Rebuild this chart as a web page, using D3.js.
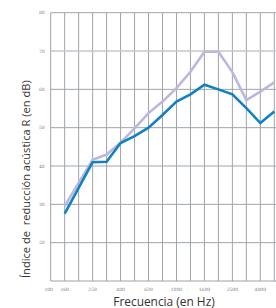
<!DOCTYPE html>
<html lang="es">
<head>
<meta charset="UTF-8">
<title>Índice de reducción acústica</title>
<script src="https://d3js.org/d3.v7.min.js"></script>
<style>
  html, body { margin: 0; padding: 0; background: #fff; }
  svg { display: block; }
</style>
</head>
<body>
<script>
// frequency bands (1/3 octave), only some are labelled
const freqs = ["100", "160", "200", "250", "315", "400", "500", "630", "800",
               "1000", "1250", "1600", "2000", "2500", "3150", "4000", "5000"];
const tickFreqs = ["100", "160", "250", "400", "630", "1000", "1600", "2500", "4000"];
const yTicks = [20, 30, 40, 50, 60, 70, 80];

// series start at 160 Hz
const seriesFreqs = freqs.slice(1);
const blueValues = [27.6, 34.3, 41.0, 41.1, 46.0, 47.8, 50.0, 53.3, 56.8, 58.7, 61.2, 60.0, 58.7, 55.1, 51.2, 54.2];
const lilacValues = [29.5, 35.6, 41.6, 43.0, 46.1, 49.8, 53.8, 56.8, 60.3, 64.6, 69.8, 69.8, 64.5, 57.2, 59.4, 61.8];

const width = 276, height = 308;
const plotLeft = 50.7, plotRight = 274.3, plotTop = 12.7, plotBottom = 281;

const svg = d3.select("body").append("svg")
    .attr("width", width)
    .attr("height", height);

const x = d3.scalePoint().domain(freqs).range([plotLeft, plotRight]);
const y = d3.scaleLinear().domain([10, 80]).range([plotBottom, plotTop]);

const gridColor = "#9ea4a9";

// vertical grid
svg.append("g")
  .selectAll("line")
  .data(freqs)
  .join("line")
    .attr("x1", d => x(d)).attr("x2", d => x(d))
    .attr("y1", plotTop).attr("y2", plotBottom)
    .attr("stroke", gridColor)
    .attr("stroke-width", 1);

// horizontal grid (70 line is lighter)
svg.append("g")
  .selectAll("line")
  .data([10].concat(yTicks))
  .join("line")
    .attr("x1", plotLeft).attr("x2", width)
    .attr("y1", d => y(d)).attr("y2", d => y(d))
    .attr("stroke", d => d === 70 ? "#c7c7cc" : gridColor)
    .attr("stroke-width", d => d === 70 ? 1.6 : 1);

// y tick labels
svg.append("g")
  .selectAll("text")
  .data(yTicks)
  .join("text")
    .attr("x", plotLeft - 6)
    .attr("y", d => y(d))
    .attr("dy", "0.35em")
    .attr("text-anchor", "end")
    .attr("font-family", "DejaVu Serif, serif")
    .attr("font-size", 4.5)
    .attr("fill", "#7a7a7a")
    .text(d => d);

// x tick labels
svg.append("g")
  .selectAll("text")
  .data(tickFreqs)
  .join("text")
    .attr("x", d => x(d) - (d === "100" ? 2 : 0))
    .attr("y", 291)
    .attr("text-anchor", "middle")
    .attr("font-family", "DejaVu Serif, serif")
    .attr("font-size", 4.5)
    .attr("fill", "#7a7a7a")
    .text(d => d);

const line = d3.line()
    .x((d, i) => x(seriesFreqs[i]))
    .y(d => y(d));

svg.append("path")
    .datum(lilacValues)
    .attr("d", line)
    .attr("fill", "none")
    .attr("stroke", "#bdb7dd")
    .attr("stroke-width", 2.6)
    .attr("stroke-linejoin", "miter");

svg.append("path")
    .datum(blueValues)
    .attr("d", line)
    .attr("fill", "none")
    .attr("stroke", "#1180c4")
    .attr("stroke-width", 2.6)
    .attr("stroke-linejoin", "miter");

// axis titles
svg.append("text")
    .attr("x", 164)
    .attr("y", 305.5)
    .attr("text-anchor", "middle")
    .attr("font-family", "Open Sans, sans-serif")
    .attr("font-size", 11.9)
    .attr("fill", "#333")
    .text("Frecuencia (en Hz)");

svg.append("text")
    .attr("transform", "translate(29.5,278) rotate(-90)")
    .attr("text-anchor", "start")
    .attr("font-family", "Open Sans, sans-serif")
    .attr("font-size", 11.1)
    .attr("fill", "#333")
    .style("white-space", "pre")
    .text("Índice de  reducción acústica R (en dB)");
</script>
</body>
</html>
